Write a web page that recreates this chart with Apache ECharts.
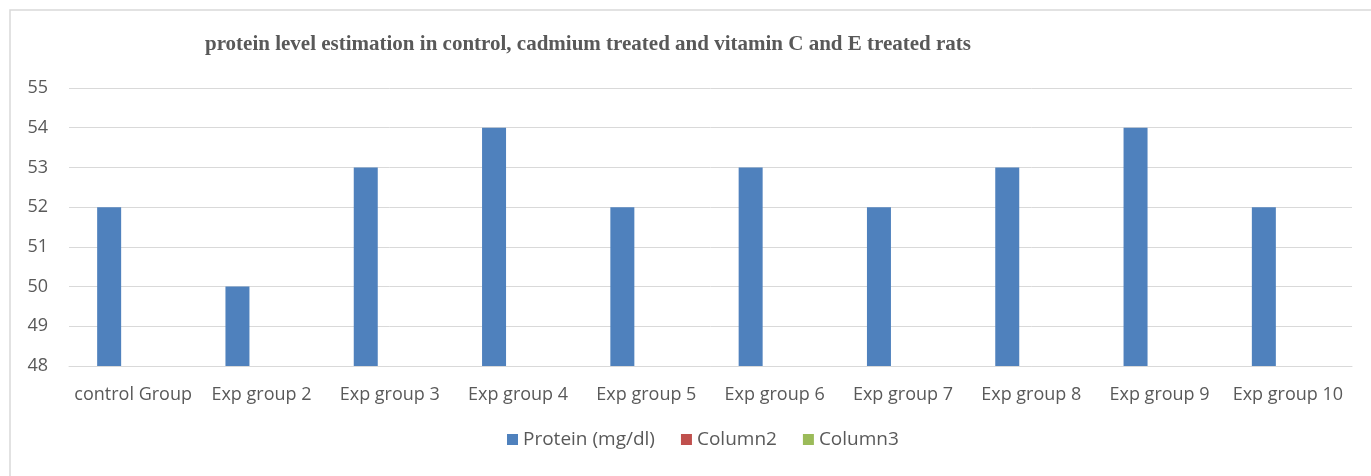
<!doctype html>
<html>
<head>
<meta charset="utf-8">
<title>protein level estimation</title>
<script src="https://cdn.jsdelivr.net/npm/echarts@6/dist/echarts.min.js"></script>
<style>
  html, body { margin: 0; padding: 0; background: #fff; }
  #main { width: 1371px; height: 476px; }
</style>
</head>
<body>
<div id="main"></div>
<script>
// chart data
var categories = ['control Group', 'Exp group 2', 'Exp group 3', 'Exp group 4', 'Exp group 5',
                  'Exp group 6', 'Exp group 7', 'Exp group 8', 'Exp group 9', 'Exp group 10'];
var protein = [52, 50, 53, 54, 52, 53, 52, 53, 54, 52];
var column2 = [];
var column3 = [];
var yTicks = [48, 49, 50, 51, 52, 53, 54, 55];

var chart = echarts.init(document.getElementById('main'));
var labelFont = '"Open Sans", "Liberation Sans", sans-serif';

var option = {
    backgroundColor: '#fff',
    animation: false,
    title: {
        text: 'protein level estimation in control, cadmium treated and vitamin C and E treated rats',
        left: 583,
        textAlign: 'center',
        top: 29,
        textStyle: {
            fontFamily: '"Liberation Serif", "DejaVu Serif", serif',
            fontWeight: 'bold',
            fontSize: 21,
            color: '#595959'
        }
    },
    graphic: [{
        type: 'rect',
        shape: { x: 10, y: 10, width: 1400, height: 500 },
        style: { fill: 'none', stroke: '#d9d9d9', lineWidth: 1.5 },
        silent: true
    }],
    legend: {
        bottom: 22,
        left: 502,
        itemWidth: 11,
        itemHeight: 11,
        itemGap: 26,
        icon: 'rect',
        textStyle: { fontFamily: labelFont, fontSize: 19, color: '#595959' },
        data: ['Protein (mg/dl)', 'Column2', 'Column3']
    },
    grid: { left: 69, right: 19, top: 88, bottom: 110 },
    xAxis: {
        type: 'category',
        data: categories,
        axisTick: { show: false },
        axisLine: { show: true, lineStyle: { color: '#d9d9d9', width: 1 } },
        axisLabel: { fontFamily: labelFont, fontSize: 18, color: '#595959', margin: 20, interval: 0 }
    },
    yAxis: {
        type: 'value',
        min: yTicks[0],
        max: yTicks[yTicks.length - 1],
        interval: 1,
        axisLine: { show: false },
        axisTick: { show: false },
        splitLine: { lineStyle: { color: '#d9d9d9', width: 1 } },
        axisLabel: { fontFamily: labelFont, fontSize: 18, color: '#595959', margin: 21 }
    },
    series: [
        { name: 'Protein (mg/dl)', type: 'bar', data: protein, barWidth: 24, barGap: '0%',
          itemStyle: { color: '#4f81bd' } },
        { name: 'Column2', type: 'bar', data: column2, barWidth: 24, barGap: '0%',
          itemStyle: { color: '#c0504d' } },
        { name: 'Column3', type: 'bar', data: column3, barWidth: 24, barGap: '0%',
          itemStyle: { color: '#9bbb59' } }
    ]
};

chart.setOption(option);
</script>
</body>
</html>
